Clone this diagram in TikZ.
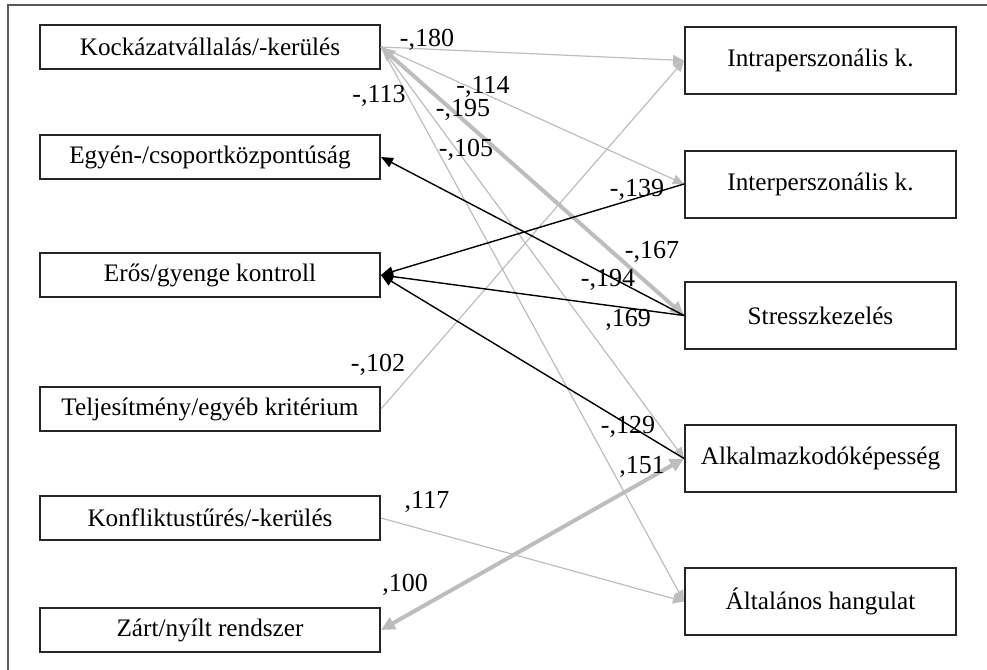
\documentclass[tikz,border=0pt]{standalone}
\usepackage{fontspec}
\setmainfont{Liberation Serif}
\usetikzlibrary{arrows.meta}
\definecolor{paleline}{gray}{0.74}
\tikzset{
    factor/.style={rectangle,draw=black!85,line width=1pt, minimum width=170pt, minimum height=22pt, inner sep=0, font=\fontsize{12.6}{14}\selectfont},
    outcome/.style={rectangle,draw=black!85,line width=1pt, minimum width=135.5pt, minimum height=33.5pt, inner sep=0, font=\fontsize{12.6}{14}\selectfont},
    weak/.style={draw=paleline, line width=0.6pt, -{Triangle[length=5.5pt,width=5pt]}},
    strong/.style={draw=paleline, line width=2pt, {Triangle[length=7pt,width=6.5pt]}-{Triangle[length=7pt,width=6.5pt]}},
    neg/.style={draw=black, line width=0.7pt, -{Triangle[length=6pt,width=5pt]}},
    coef/.style={inner sep=0, font=\fontsize{13}{15}\selectfont}
}

\begin{document}
\begin{tikzpicture}[x=0.5pt,y=-0.5pt]
    \useasboundingbox (0,0) rectangle (987,670);
    \draw[black!65,line width=1pt] (8,670) -- (8,5) -- (987,5);

    % left column
    \node[factor] (kock)   at (210,47)  {Kockázatvállalás/-kerülés};
    \node[factor] (egyen)  at (210,157) {Egyén-/csoportközpontúság};
    \node[factor] (eros)   at (210,275) {Erős/gyenge kontroll};
    \node[factor] (telj)   at (210,409) {Teljesítmény/egyéb kritérium};
    \node[factor] (konfl)  at (210,518) {Konfliktustűrés/-kerülés};
    \node[factor] (zart)   at (210,630) {Zárt/nyílt rendszer};

    % right column
    \node[outcome] (intra)   at (820.5,60.5)  {Intraperszonális k.};
    \node[outcome] (inter)   at (820.5,184)   {Interperszonális k.};
    \node[outcome] (stressz) at (820.5,315.5) {Stresszkezelés};
    \node[outcome] (alkal)   at (820.5,458.5) {Alkalmazkodóképesség};
    \node[outcome] (altal)   at (820.5,601.5) {Általános hangulat};

    % paths
    \draw[weak] (kock.east) -- (intra.west);
    \draw[weak] (kock.east) -- (inter.west);
    \draw[weak] (kock.east) -- (alkal.west);
    \draw[weak] (kock.east) -- (altal.west);
    \draw[strong] (kock.east) -- (stressz.west);
    \draw[weak] (telj.east) -- (intra.west);
    \draw[weak] (konfl.east) -- (altal.west);
    \draw[strong] (zart.east) -- (alkal.west);
    \draw[neg] (stressz.west) -- (egyen.east);
    \draw[neg] (inter.west) -- (eros.east);
    \draw[neg] (stressz.west) -- (eros.east);
    \draw[neg] (alkal.west) -- (eros.east);

    % coefficients
    \node[coef] (c180) at (427,40)  {-,180};
    \node[coef] (c114) at (483,87)  {-,114};
    \node[coef] (c113) at (379,96)  {-,113};
    \node[coef] (c195) at (463,110) {-,195};
    \node[coef] (c105) at (466,150) {-,105};
    \node[coef] (c139) at (637,190) {-,139};
    \node[coef] (c167) at (652,252) {-,167};
    \node[coef] (c194) at (608,280) {-,194};
    \node[coef] (c169) at (628,320) {,169};
    \node[coef] (c102) at (378,365) {-,102};
    \node[coef] (c129) at (628,427) {-,129};
    \node[coef] (c151) at (642,467) {,151};
    \node[coef] (c117) at (427,502) {,117};
    \node[coef] (c100) at (405,585) {,100};
\end{tikzpicture}
\end{document}
